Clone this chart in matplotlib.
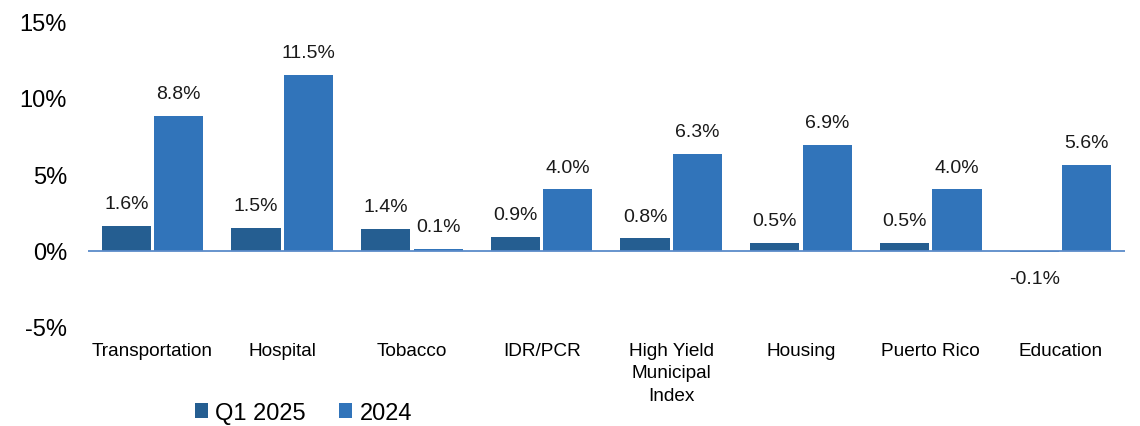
import numpy as np
import matplotlib.pyplot as plt

plt.rcParams['font.family'] = ['Liberation Sans', 'DejaVu Sans']

# sector returns (%)
categories = ["Transportation", "Hospital", "Tobacco", "IDR/PCR",
              "High Yield\nMunicipal\nIndex", "Housing", "Puerto Rico", "Education"]
q1_2025 = [1.6, 1.5, 1.4, 0.9, 0.8, 0.5, 0.5, -0.1]
y2024 = [8.8, 11.5, 0.1, 4.0, 6.3, 6.9, 4.0, 5.6]
q1_labels = ["1.6%", "1.5%", "1.4%", "0.9%", "0.8%", "0.5%", "0.5%", "-0.1%"]
y24_labels = ["8.8%", "11.5%", "0.1%", "4.0%", "6.3%", "6.9%", "4.0%", "5.6%"]

dark = '#255E91'
light = '#3174BA'

fig = plt.figure(figsize=(11.4, 4.27), dpi=100)
ax = fig.add_axes([0.077, 0.232, 0.91, 0.716])

x = np.arange(len(categories))
w = 0.38
b1 = ax.bar(x - w / 2 - 0.012, q1_2025, w, color=dark, label='Q1 2025')
b2 = ax.bar(x + w / 2 + 0.012, y2024, w, color=light, label='2024')

for bars, labels in [(b1, q1_labels), (b2, y24_labels)]:
    for bar, lab in zip(bars, labels):
        h = bar.get_height()
        off = 16 if h >= 0 else -19
        ax.annotate(lab, (bar.get_x() + bar.get_width() / 2, h),
                    xytext=(0, off), textcoords='offset points',
                    ha='center', va='center', fontsize=14, color='#1a1a1a')

ax.axhline(0, color='#5B8BC9', linewidth=1.3)
ax.set_ylim(-5, 15)
ax.set_xlim(-0.5, len(categories) - 0.5)
ax.set_yticks([-5, 0, 5, 10, 15])
ax.set_yticklabels(["-5%", "0%", "5%", "10%", "15%"], fontsize=17)
ax.set_xticks(x)
ax.set_xticklabels(categories, fontsize=13.7, va='top', linespacing=1.4)
ax.tick_params(axis='both', length=0)
ax.tick_params(axis='x', pad=11)
ax.tick_params(axis='y', pad=15)
for s in ax.spines.values():
    s.set_visible(False)

fig.legend(loc='lower left', bbox_to_anchor=(0.152, -0.045), ncol=2, frameon=False,
           fontsize=17, handlelength=0.55, handleheight=0.55, handletextpad=0.3,
           columnspacing=1.45)

fig.savefig('out.png', dpi=100)
